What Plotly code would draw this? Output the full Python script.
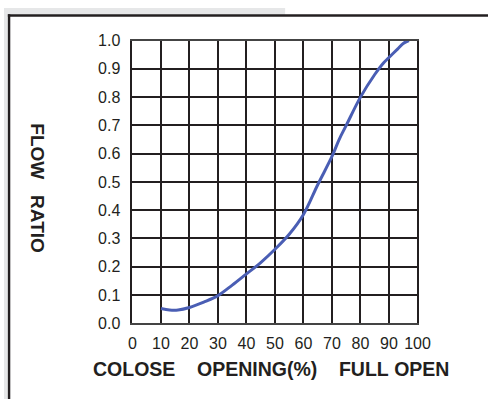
import plotly.graph_objects as go

# Data
opening = [10, 13, 16, 20, 25, 30, 35, 40, 45, 50, 55, 60, 65, 70, 72.5, 75, 80, 85, 88, 90, 93, 95, 97]
flow_ratio = [0.052, 0.047, 0.047, 0.056, 0.075, 0.098, 0.135, 0.175, 0.215, 0.262, 0.315, 0.385,
              0.49, 0.59, 0.65, 0.70, 0.80, 0.88, 0.92, 0.94, 0.97, 0.99, 1.0]
x_ticks = [0, 10, 20, 30, 40, 50, 60, 70, 80, 90, 100]
y_ticks = [0.0, 0.1, 0.2, 0.3, 0.4, 0.5, 0.6, 0.7, 0.8, 0.9, 1.0]

W, H = 501, 408
px = lambda v: v / W
py = lambda v: 1 - v / H

fig = go.Figure()
fig.add_trace(go.Scatter(
    x=opening, y=flow_ratio, mode="lines",
    line=dict(color="#4a5eb4", width=3, shape="spline", smoothing=1.0),
    hoverinfo="skip", showlegend=False,
))

GRID = "#231f20"
TICKFONT = dict(family="Liberation Sans, Arial, sans-serif", size=16, color="#231f20")
SP = "&nbsp;"

fig.update_layout(
    width=W, height=H,
    margin=dict(l=0, r=0, t=0, b=0),
    paper_bgcolor="white", plot_bgcolor="white",
    xaxis=dict(
        domain=[px(133), px(428)], range=[0, 100],
        tickvals=x_ticks, ticktext=[str(v) for v in x_ticks],
        showgrid=True, gridcolor=GRID, gridwidth=2,
        showline=True, linecolor="#444", linewidth=2, mirror=True,
        zeroline=False, ticks="", tickfont=TICKFONT, ticklabelstandoff=5,
        fixedrange=True,
    ),
    yaxis=dict(
        domain=[py(329), py(34)], range=[0, 1],
        tickvals=y_ticks, ticktext=[f"{v:.1f}" for v in y_ticks],
        showgrid=True, gridcolor=GRID, gridwidth=2,
        showline=True, linecolor="#231f20", linewidth=2, mirror=True,
        zeroline=False, ticks="", tickfont=TICKFONT, ticklabelstandoff=7,
        fixedrange=True,
    ),
    shapes=[
        # grey background strips
        dict(type="rect", xref="paper", yref="paper", x0=0, x1=px(4), y0=0, y1=1,
             fillcolor="#e6e7e8", line_width=0, layer="below"),
        dict(type="rect", xref="paper", yref="paper", x0=0, x1=px(291), y0=py(7), y1=1,
             fillcolor="#e6e7e8", line_width=0, layer="below"),
        # dark frame lines
        dict(type="rect", xref="paper", yref="paper", x0=px(4), x1=1, y0=py(9), y1=py(6.5),
             fillcolor="#231f20", line_width=0),
        dict(type="rect", xref="paper", yref="paper", x0=px(4), x1=px(6.5), y0=0, y1=py(6.5),
             fillcolor="#231f20", line_width=0),
    ],
    annotations=[
        dict(text="COLOSE" + SP * 4 + "OPENING(%)" + SP * 4 + "FULL" + SP + "OPEN",
             xref="paper", yref="paper", x=px(276), y=py(377),
             showarrow=False, xanchor="center", yanchor="middle",
             font=dict(family="Liberation Sans, Arial, sans-serif", size=19.5, color="#231f20", weight=900)),
        dict(text="FLOW" + SP * 3 + "RATIO",
             xref="paper", yref="paper", x=px(35), y=py(188),
             showarrow=False, xanchor="center", yanchor="middle", textangle=90,
             font=dict(family="Liberation Sans, Arial, sans-serif", size=19, color="#231f20", weight=900)),
    ],
)

fig.write_html(
    "out.html",
    config={"displayModeBar": False},
    post_script="document.body.style.margin='0';document.body.style.padding='0';"
                "document.documentElement.style.overflow='hidden';",
)
